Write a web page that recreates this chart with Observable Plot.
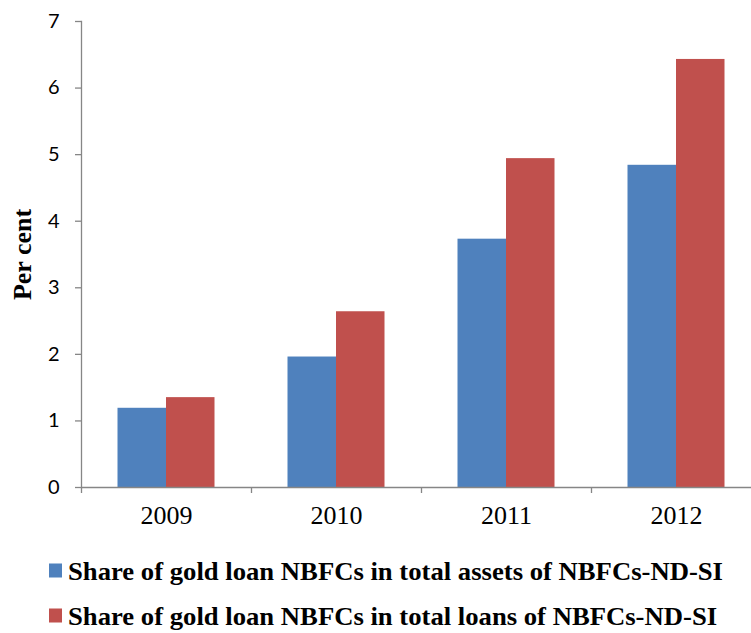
<!DOCTYPE html>
<html><head><meta charset="utf-8">
<script src="https://cdn.jsdelivr.net/npm/d3@7"></script>
<script src="https://cdn.jsdelivr.net/npm/@observablehq/plot@0.6"></script>
<style>
body{margin:0;overflow:hidden;background:#fff;width:751px;height:633px}
#chart{width:751px;height:548px;overflow:hidden}
#chart svg{display:block;max-width:none !important}
.legend-row{height:45px}
.legend-row svg{display:block}
</style>
</head><body><div id="chart"></div><div id="legend"></div>
<script>
const years = ["2009", "2010", "2011", "2012"];
const assetsShare = [1.19, 1.96, 3.73, 4.84];
const loansShare = [1.35, 2.64, 4.94, 6.43];
const seriesNames = [
  "Share of gold loan NBFCs in total assets of NBFCs-ND-SI",
  "Share of gold loan NBFCs in total loans of NBFCs-ND-SI"
];
const seriesColors = ["#4F81BD", "#C0504D"];
const yTicks = [0, 1, 2, 3, 4, 5, 6, 7];
const yLabel = "Per cent";

const axisGray = "#868686";
const assetsRows = years.map((year, i) => ({year, value: assetsShare[i]}));
const loansRows = years.map((year, i) => ({year, value: loansShare[i]}));

const chart = Plot.plot({
  width: 761,
  height: 548,
  marginLeft: 81,
  marginRight: 0,
  marginTop: 21,
  marginBottom: 61,
  style: {background: "#fff", overflow: "visible", maxWidth: "none"},
  x: {domain: years, padding: 0, label: null, axis: null},
  y: {domain: [0, 7], label: null, axis: null},
  marks: [
    Plot.barY(assetsRows, {x: "year", y: "value", fill: seriesColors[0], insetLeft: 36.5, insetRight: 85}),
    Plot.barY(loansRows, {x: "year", y: "value", fill: seriesColors[1], insetLeft: 85, insetRight: 36.5}),
    Plot.frame({anchor: "left", stroke: axisGray, strokeWidth: 1.3}),
    Plot.ruleY([0], {stroke: axisGray, strokeWidth: 1.3}),
    Plot.axisY({ticks: yTicks, tickFormat: d3.format("d"), tickSize: 6, tickPadding: 16, stroke: axisGray, strokeWidth: 1.3, fill: "#000", fontSize: 20, fontFamily: "Lato", label: null}),
    Plot.axisX({tickSize: 6, tickFormat: () => "", dx: -85, stroke: axisGray, strokeWidth: 1.3, label: null}),
    Plot.axisX({tickSize: 0, tickPadding: 18, fill: "#000", fontSize: 26, fontFamily: "Liberation Serif", label: null}),
    Plot.text([yLabel], {frameAnchor: "left", textAnchor: "middle", rotate: -90, dx: -59, text: d => d, fontSize: 26, fontWeight: "bold", fontFamily: "Liberation Serif", fill: "#000"})
  ]
});
document.getElementById("chart").appendChild(chart);

// Legend below the SVG
const legend = d3.select("#legend");
const condense = {target: 655};
const rows = seriesNames.map((name, i) => {
  const svg = legend.append("div").attr("class", "legend-row")
    .append("svg").attr("width", 751).attr("height", 45);
  svg.append("rect").attr("x", 49).attr("y", 15.5).attr("width", 13).attr("height", 14).attr("fill", seriesColors[i]);
  const t = svg.append("text").attr("x", 68).attr("y", 23)
    .attr("dominant-baseline", "central")
    .attr("font-family", "Liberation Serif").attr("font-weight", "bold").attr("font-size", 25)
    .attr("fill", "#000").text(name);
  return t;
});
const natural0 = rows[0].node().getComputedTextLength();
const ratio = condense.target / natural0;
rows.forEach(t => {
  const n = t.node().getComputedTextLength();
  t.attr("textLength", n * ratio).attr("lengthAdjust", "spacingAndGlyphs");
});
</script>
</body></html>
